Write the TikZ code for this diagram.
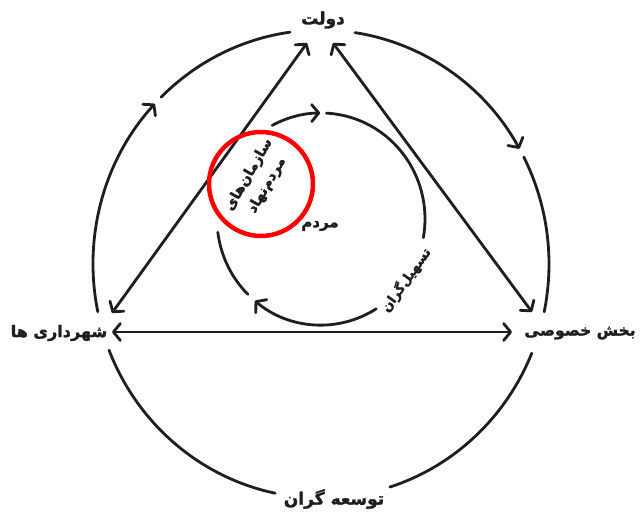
\documentclass[tikz,border=0pt]{standalone}
\usepackage{fontspec}
\usetikzlibrary{arrows.meta}
\TeXXeTstate=1
\newfontfamily\fa[Script=Arabic,FakeBold=1.6]{DejaVu Sans}
\definecolor{ink}{RGB}{28,30,36}
\tikzset{
  ln/.style={line width=2.8pt, draw=ink, line cap=round},
  barb/.tip={Straight Barb[length=7pt,width=17pt,line cap=round,line join=round]},
  tip/.style={-barb},
  dbl/.style={barb-barb},
  lbl/.style={text=ink, inner sep=0pt},
}
\newcommand\oarc[3][]{\draw[ln,#1] ([shift={(#2:228pt and 234pt)}]oc) arc[start angle=#2,end angle=#3,x radius=228pt,y radius=234pt];}
\newcommand\iarc[3][]{\draw[ln,#1] ([shift={(#2:104pt and 106pt)}]ic) arc[start angle=#2,end angle=#3,x radius=104pt,y radius=106pt];}
\begin{document}
\begin{tikzpicture}[x=1pt,y=1pt]
\useasboundingbox[fill=white] (0,0) rectangle (640,514);
\coordinate (oc) at (321,250);
\coordinate (ic) at (321,295);
% outer circle
\oarc[tip]{191.8}{136.8}
\oarc{134.5}{97.8}
\oarc[tip]{81.4}{29.5}
\oarc{27.2}{-11.8}
\oarc{-22.4}{-72.4}
\oarc{-101.6}{-158.4}
% inner circle
\iarc{87}{-10.1}
\iarc[tip]{-57.9}{-129.5}
\iarc{-134.6}{-172.8}
\iarc[tip]{118}{90.5}
% labels
\node[lbl,font=\fa\bfseries\fontsize{17}{20}\selectfont] (dowlat) at (323,494) {\beginR دولت\endR};
\node[lbl,font=\fa\bfseries\fontsize{16}{20}\selectfont] (shahr) at (59,181) {\beginR شهرداری ها\endR};
\node[lbl,font=\fa\bfseries\fontsize{15.5}{20}\selectfont] (bakhsh) at (580,181) {\beginR بخش خصوصی\endR};
\node[lbl,font=\fa\bfseries\fontsize{17}{20}\selectfont] (tose) at (334,15) {\beginR توسعه گران\endR};
\node[lbl,font=\fa\bfseries\fontsize{15}{18}\selectfont] (mardom) at (320,288) {\beginR مردم\endR};
\node[lbl,font=\fa\bfseries\fontsize{13}{15}\selectfont,rotate=54.5] (tas) at (406,234) {\beginR تسهیل‌گران\endR};
% triangle and base
\coordinate (ta1) at (307,471);
\coordinate (ta2) at (333,471);
\coordinate (tl) at (112,201);
\coordinate (tr) at (532,202);
\coordinate (hl) at (112,182);
\coordinate (hr) at (512,182);
\draw[ln,dbl] (tl) -- (ta1);
\draw[ln,dbl] (ta2) -- (tr);
\draw[ln,dbl] (hl) -- (hr);
% NGO ring
\node[circle, draw=red, line width=4.5pt, minimum size=104pt, inner sep=0pt] (ring) at (261,330) {};
\node[lbl,font=\fa\bfseries\fontsize{14}{21}\selectfont,rotate=60,align=center] (ngo) at (258,334) {\beginR سازمان‌های\endR\\\beginR مردم‌نهاد\endR};
\end{tikzpicture}
\end{document}
